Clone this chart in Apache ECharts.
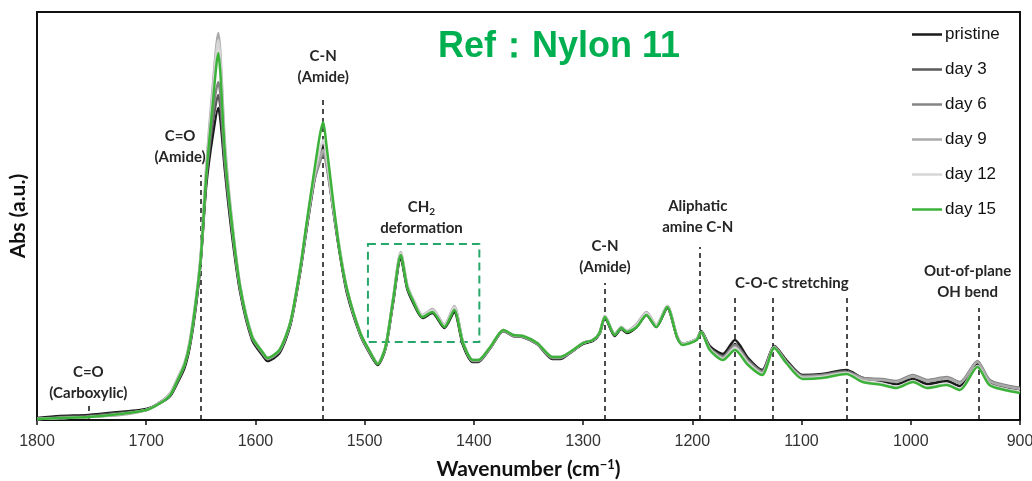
<!DOCTYPE html>
<html>
<head>
<meta charset="utf-8">
<script src="https://cdn.jsdelivr.net/npm/echarts@6/dist/echarts.min.js"></script>
<style>
  html, body { margin: 0; padding: 0; background: #fff; }
  #main { width: 1032px; height: 481px; }
</style>
</head>
<body>
<div id="main"></div>
<script>
// wavenumber (cm-1)
let wavenumber = [1800,1779,1753,1724,1700,1687,1678,1672,1665,1660,1654,1650,1645,1639,1634,1632,1628,1622,1614,1603,
  1593,1589,1578,1568,1559,1553,1546,1541,1538,1535,1529,1523,1516,1504,1495,1488,1481,1474,1467,1461,
  1456,1447,1438,1427,1418,1410,1401,1396,1385,1373,1364,1355,1342,1328,1321,1312,1300,1291,1285,1280,
  1271,1265,1260,1251,1242,1233,1223,1214,1209,1196,1192,1184,1172,1161,1149,1136,1125,1114,1099,1081,
  1059,1044,1026,1013,998,985,967,955,939,928,914,900]

// absorbance (a.u.)
let pristine = [2,4,5,8,11,17,24,36,52,74,118,160,235,285,312,300,250,190,128,80,
  64,59,67,95,148,192,240,265,277,262,212,168,126,85,66,55,71,117,162,131,
  118,102,107,92,108,75,58,58,72,89,84,83,76,61,61,67,76,79,86,102,
  84,91,87,93,105,93,112,83,76,81,89,74,66,80,62,50,74,60,45,46,
  50,42,39,36,41,36,39,34,56,38,33,31]
let day3 = [1,3,4,7,10,18,25,37,54,76,121,162,240,298,325,312,256,195,130,82,
  66,61,69,97,150,195,243,262,272,258,213,170,128,86,67,56,72,119,164,132,
  120,103,109,94,111,77,59,59,72,89,84,83,76,62,62,67,77,80,87,103,
  85,92,88,94,106,94,113,83,76,81,88,72,64,76,60,49,74,59,44,45,
  49,42,40,38,44,39,42,37,58,40,34,32]
let day6 = [1,2,3,6,10,17,25,38,55,77,122,163,243,308,338,325,260,197,131,82,
  66,61,69,97,150,194,240,258,267,255,212,170,128,86,67,56,72,120,166,134,
  121,104,110,95,113,78,59,59,72,89,84,83,76,62,62,67,77,80,87,104,
  86,92,89,95,107,95,114,84,76,81,88,72,63,75,59,48,73,58,44,45,
  48,42,41,39,45,40,43,38,59,40,35,32]
let day9 = [1,2,3,5,10,18,27,40,57,80,126,168,255,335,387,365,278,205,135,84,
  67,62,70,98,152,196,243,262,270,258,214,172,130,87,68,57,73,121,168,135,
  122,105,111,95,114,78,60,60,73,90,85,84,77,63,63,68,77,80,87,104,
  86,93,89,96,108,95,114,84,76,81,88,71,62,73,57,47,73,58,43,44,
  47,41,40,38,44,39,42,37,58,39,34,31]
let day12 = [1,2,3,6,10,17,26,39,56,78,124,165,250,328,380,358,272,202,134,84,
  67,62,70,98,152,197,246,270,280,265,216,173,130,87,68,57,73,121,167,135,
  122,105,110,95,113,78,60,60,73,90,85,84,77,63,63,68,77,80,87,104,
  86,92,89,95,107,95,114,84,76,81,88,71,61,72,57,46,72,57,42,43,
  47,39,36,33,39,33,36,31,54,36,31,28]
let day15 = [1,2,3,6,10,17,25,38,55,77,123,163,245,317,367,345,267,200,133,83,
  67,62,70,98,152,198,250,285,298,275,220,170,130,87,68,56,73,120,165,133,
  120,103,108,93,110,77,60,60,73,90,85,84,77,63,63,68,77,80,87,103,
  85,92,88,93,105,93,113,83,75,80,88,70,60,70,55,45,72,57,41,42,
  46,38,35,32,38,32,35,30,53,35,30,27]

let seriesNames = ['pristine', 'day 3', 'day 6', 'day 9', 'day 12', 'day 15']
let seriesValues = [pristine, day3, day6, day9, day12, day15]
let seriesColors = ['#1a1a1a', '#5a5a5a', '#858585', '#aaaaaa', '#d6d6d6', '#3db23a']

// dashed marker lines: [wavenumber, top]
let markerLines = [[1753, 14], [1650, 245], [1538, 322], [1280, 137], [1193, 173], [1161, 123], [1126, 123], [1059, 123], [938, 112]]
// annotation texts: [wavenumber, height, text]
let notes = [
  [1753, 37, 'C=O\n(Carboxylic)'],
  [1669, 273, 'C=O\n(Amide)'],
  [1538, 353, 'C-N\n(Amide)'],
  [1448, 202, '{t|CH}{s|2}\n{t|deformation}'],
  [1280, 163, 'C-N\n(Amide)'],
  [1195, 203, 'Aliphatic\namine C-N'],
  [1109, 137, 'C-O-C stretching'],
  [948, 138, 'Out-of-plane\nOH bend']
]
let boxArea = [[1497, 176], [1395, 78]]

let chart = echarts.init(document.getElementById('main'))

let series = []
for (let i = 0; i < seriesNames.length; i++) {
    let pts = []
    for (let j = 0; j < wavenumber.length; j++) {
        pts.push([wavenumber[j], seriesValues[i][j]])
    }
    series.push({
        name: seriesNames[i],
        type: 'line',
        data: pts,
        showSymbol: false,
        symbol: 'none',
        smooth: 0.25,
        color: seriesColors[i],
        lineStyle: { width: 2.5, color: seriesColors[i] },
        z: 3 + i
    })
}

let noteStyle = {
    fontFamily: 'Lato',
    fontWeight: 'bold',
    fontSize: 15,
    color: '#262626',
    lineHeight: 21
}

series.push({
    name: 'marks',
    type: 'line',
    data: [],
    z: 2,
    markLine: {
        silent: true,
        symbol: 'none',
        label: { show: false },
        lineStyle: { color: '#111', width: 1.5, type: [5, 4] },
        data: markerLines.map(m => [{ coord: [m[0], 0] }, { coord: [m[0], m[1]] }])
    },
    markArea: {
        silent: true,
        itemStyle: { color: 'rgba(0,0,0,0)', borderColor: '#27a86b', borderWidth: 2, borderType: [8, 5] },
        data: [[{ coord: boxArea[0] }, { coord: boxArea[1] }]]
    },
    markPoint: {
        silent: true,
        symbol: 'rect',
        symbolSize: 1,
        itemStyle: { color: 'rgba(0,0,0,0)' },
        data: notes.map(n => ({
            coord: [n[0], n[1]],
            label: {
                show: true,
                position: 'inside',
                formatter: n[2],
                ...noteStyle,
                rich: {
                    t: { ...noteStyle },
                    s: { ...noteStyle, fontSize: 10, padding: [8, 0, 0, 0] }
                }
            }
        }))
    }
})

let option = {
    backgroundColor: '#fff',
    animation: false,
    title: {
        text: 'Ref：Nylon 11',
        left: 433,
        top: 24,
        textStyle: { color: '#00b050', fontSize: 36, fontWeight: 'bold', fontFamily: 'Liberation Sans' }
    },
    legend: {
        data: seriesNames,
        orient: 'vertical',
        left: 912,
        top: 26,
        padding: 0,
        icon: 'rect',
        itemWidth: 30,
        itemHeight: 2.5,
        itemGap: 18,
        textStyle: { fontSize: 17, color: '#111', fontFamily: 'Liberation Sans', padding: [0, 0, 0, -2] }
    },
    grid: {
        left: 37,
        right: 12,
        top: 12,
        bottom: 61,
        outerBoundsMode: 'none',
        show: true,
        borderColor: '#111',
        borderWidth: 2
    },
    xAxis: {
        type: 'value',
        inverse: true,
        min: 900,
        max: 1800,
        interval: 100,
        name: 'Wavenumber (cm{sup|−1})',
        nameLocation: 'middle',
        nameGap: 38,
        nameTextStyle: {
            fontFamily: 'Lato', fontWeight: 'bold', fontSize: 21, color: '#111',
            rich: { sup: { fontFamily: 'Lato', fontWeight: 'bold', fontSize: 13, color: '#111', padding: [0, 0, 10, 0] } }
        },
        axisLine: { show: true, lineStyle: { color: '#111', width: 2 } },
        axisTick: { show: true, inside: false, length: 5, lineStyle: { color: '#111', width: 1.5 } },
        axisLabel: { fontSize: 16, color: '#333', fontFamily: 'Liberation Sans', margin: 14, formatter: v => String(v) },
        splitLine: { show: false }
    },
    yAxis: {
        type: 'value',
        min: 0,
        max: 408,
        name: 'Abs (a.u.)',
        nameLocation: 'middle',
        nameGap: 8,
        nameTextStyle: { fontFamily: 'Lato', fontWeight: 'bold', fontSize: 21, color: '#111' },
        axisLine: { show: true, lineStyle: { color: '#111', width: 2 } },
        axisTick: { show: false },
        axisLabel: { show: false },
        splitLine: { show: false }
    },
    series: series
}

chart.setOption(option)
</script>
</body>
</html>
